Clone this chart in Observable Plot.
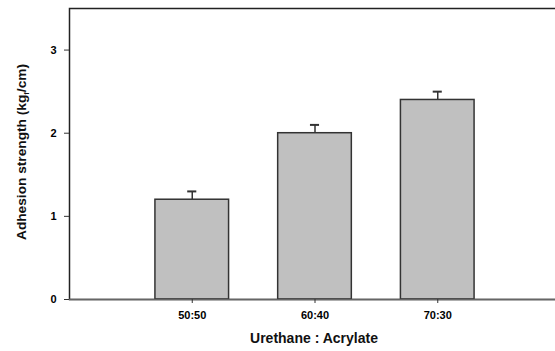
<!DOCTYPE html>
<html><head><meta charset="utf-8">
<script src="https://cdn.jsdelivr.net/npm/d3@7"></script>
<script src="https://cdn.jsdelivr.net/npm/@observablehq/plot@0.6"></script>
<style>
body{margin:0;background:#fff;}
svg{font-family:"Liberation Sans",Arial,sans-serif;}
</style></head>
<body><div id="chart"></div>
<script>
const categories = ["50:50", "60:40", "70:30"];
const values = [1.2, 2.0, 2.4];
const errors = [0.1, 0.1, 0.1];
const yTicks = [0, 1, 2, 3];

const data = categories.map((c, i) => ({pos: i + 1, cat: c, v: values[i], e: errors[i]}));
const halfW = 0.3;

const plot = Plot.plot({
  width: 555, height: 351,
  marginLeft: 69, marginRight: -5, marginTop: 8, marginBottom: 52,
  x: {domain: [0, 4]},
  y: {domain: [0, 3.5]},
  marks: [
    Plot.ruleX(data, {x: "pos", y1: "v", y2: d => d.v + d.e, stroke: "#333", strokeWidth: 1.5}),
    Plot.ruleY(data, {y: d => d.v + d.e, x1: d => d.pos - 0.037, x2: d => d.pos + 0.037, stroke: "#333", strokeWidth: 2}),
    Plot.rect(data, {x1: d => d.pos - halfW, x2: d => d.pos + halfW, y1: 0, y2: "v", fill: "#c0c0c0", stroke: "#333", strokeWidth: 1.5}),
    Plot.frame({stroke: "#222", strokeWidth: 1.5}),
    Plot.ruleY([0], {stroke: "#666", strokeWidth: 1.5}),
    Plot.axisY({ticks: yTicks, tickFormat: "d", tickSize: 5, tickPadding: 8, label: null, fontSize: 11, fontWeight: "bold", stroke: "#333"}),
    Plot.axisX({ticks: categories.map((c, i) => i + 1), tickFormat: d => categories[d - 1], tickSize: 4, tickPadding: 8, label: null, fontSize: 11, fontWeight: "bold", stroke: "#333"})
  ]
});
document.getElementById("chart").appendChild(plot);

const svg = d3.select(plot);
const yl = svg.append("text")
  .attr("transform", "translate(26,152) rotate(-90)")
  .attr("text-anchor", "middle")
  .attr("textLength", 176).attr("lengthAdjust", "spacingAndGlyphs")
  .attr("font-size", 12.5).attr("font-weight", "bold").attr("fill", "#111");
yl.append("tspan").text("Adhesion strength (kg");
yl.append("tspan").attr("font-size", 7).attr("dy", 3).text("f");
yl.append("tspan").attr("dy", -3).text("/cm)");

svg.append("text")
  .attr("x", 314).attr("y", 343)
  .attr("text-anchor", "middle")
  .attr("font-size", 14).attr("font-weight", "bold").attr("fill", "#111")
  .text("Urethane : Acrylate");
</script></body></html>
